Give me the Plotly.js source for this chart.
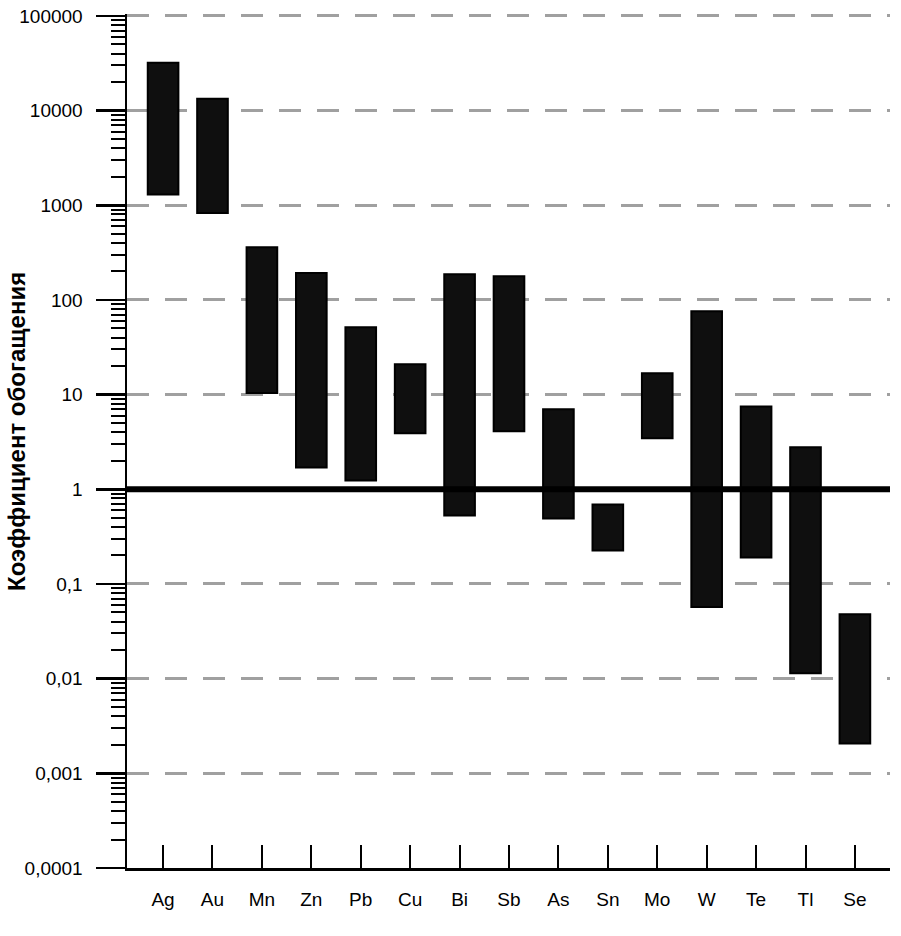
<!DOCTYPE html>
<html>
<head>
<meta charset="utf-8">
<script src="https://cdn.plot.ly/plotly-3.0.1.min.js"></script>
<style>html,body{margin:0;padding:0;background:#fff;}#chart{width:901px;height:936px;}</style>
</head>
<body>
<div id="chart"></div>
<script>
const elements = ["Ag","Au","Mn","Zn","Pb","Cu","Bi","Sb","As","Sn","Mo","W","Te","Tl","Se"];
const lowValues  = [1300, 830, 10.4, 1.7, 1.24, 3.9, 0.53, 4.1, 0.49, 0.226, 3.46, 0.057, 0.19, 0.0114, 0.00207];
const highValues = [32000, 13300, 360, 192, 51.5, 20.9, 187, 178, 7.0, 0.69, 16.8, 76, 7.5, 2.78, 0.048];
const tickValues = [0.0001, 0.001, 0.01, 0.1, 1, 10, 100, 1000, 10000, 100000];
const tickLabels = ["0,0001","0,001","0,01","0,1","1","10","100","1000","10000","100000"];
const referenceLevel = 1;
const yTitle = 'Коэффициент обогащения';

const spans = highValues.map((h, i) => h - lowValues[i]);

const trace = {
  type: 'bar',
  x: elements,
  y: spans,
  base: lowValues,
  width: 0.62,
  marker: {color: '#0f0f0f', line: {color: '#000', width: 2}},
  hoverinfo: 'skip'
};

const layout = {
  width: 901, height: 936,
  margin: {l: 127, r: 11, t: 14, b: 68},
  paper_bgcolor: '#fff', plot_bgcolor: '#fff',
  showlegend: false,
  font: {family: 'Liberation Sans, Arial, sans-serif', color: '#000', size: 19},
  xaxis: {
    type: 'category',
    range: [-0.73, 14.71],
    showline: true, linecolor: '#000', linewidth: 3,
    ticks: 'inside', ticklen: 23, tickwidth: 2, tickcolor: '#000',
    showgrid: false, zeroline: false,
    ticklabelstandoff: 12,
    tickfont: {size: 19}
  },
  yaxis: {
    type: 'log',
    range: [-4, 5.02],
    tickmode: 'array', tickvals: tickValues, ticktext: tickLabels,
    showline: true, linecolor: '#000', linewidth: 2.5,
    ticks: 'outside', ticklen: 29, tickwidth: 2.5, tickcolor: '#000',
    showgrid: true, gridcolor: '#a0a0a0', gridwidth: 3, griddash: '22px,16px',
    zeroline: false,
    ticklabelstandoff: 9,
    tickfont: {size: 19},
    minor: {dtick: 'D1', ticks: 'outside', ticklen: 14, tickwidth: 2, tickcolor: '#000', showgrid: false}
  },
  annotations: [{
    text: yTitle, textangle: -90, showarrow: false,
    xref: 'paper', yref: 'paper', x: -0.145, y: 0.511,
    xanchor: 'center', yanchor: 'middle',
    font: {size: 24, weight: 'bold', color: '#000'}
  }],
  shapes: [{
    type: 'line', xref: 'paper', yref: 'y',
    x0: 0, x1: 1, y0: referenceLevel, y1: referenceLevel,
    line: {color: '#000', width: 6}, layer: 'above'
  }]
};

Plotly.newPlot('chart', [trace], layout, {displayModeBar: false, staticPlot: true});
</script>
</body>
</html>
